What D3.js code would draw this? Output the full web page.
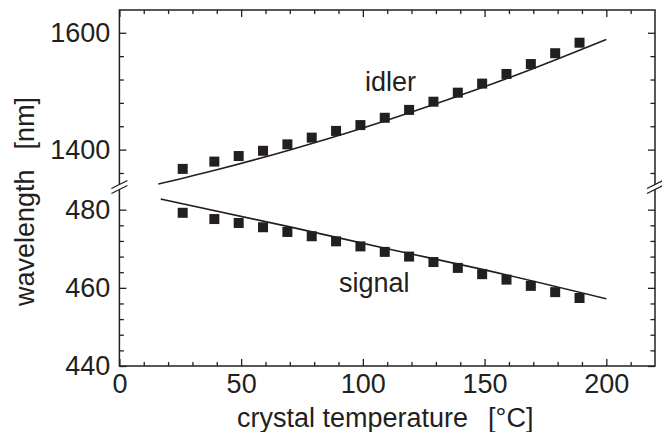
<!DOCTYPE html>
<html>
<head>
<meta charset="utf-8">
<script src="https://cdn.jsdelivr.net/npm/d3@7"></script>
<style>
  body { margin: 0; background: #fff; }
  text { font-family: "Liberation Sans", Arial, sans-serif; fill: #231f20; }
</style>
</head>
<body>
<svg id="chart" width="662" height="432"></svg>
<script>
// measured data (temperature in °C, wavelength in nm)
const temps = [26, 39, 49, 59, 69, 79, 89, 99, 109, 119, 129, 139, 149, 159, 169, 179, 189];
const idlerNm = [1367, 1379.5, 1389, 1398, 1409, 1420.5, 1432, 1442, 1454.5, 1468, 1482, 1497.5, 1513, 1529.5, 1546.5, 1565, 1583];
const signalNm = [479.2, 477.6, 476.6, 475.5, 474.3, 473.2, 471.9, 470.6, 469.2, 468.0, 466.6, 465.1, 463.5, 462.1, 460.5, 458.9, 457.4];

// calculated curves
const idlerFitT = [16, 40, 70, 100, 130, 160, 200];
const idlerFitNm = [1341, 1365.5, 1399.5, 1437, 1478.5, 1523, 1588.7];
const signalFitT = [17, 70, 110, 150, 200];
const signalFitNm = [482.7, 475.6, 470.0, 464.6, 457.2];

const xMajor = [0, 50, 100, 150, 200];
const xMinor = d3.range(10, 220, 10).filter(d => d % 50 != 0);
const upperMajor = [1400, 1600];
const upperMinor = [1360, 1440, 1480, 1520, 1560];
const lowerMajor = [440, 460, 480];
const lowerMinor = d3.range(444, 480, 4).filter(d => d % 20 != 0);

const ink = "#231f20";
const fs = "27px";
const pLeft = 119.4, pRight = 655, pTop = 10, pBottom = 366, brk = 187;

const svg = d3.select("#chart");

const x = d3.scaleLinear().domain([0, 220]).range([pLeft, pRight]);
const yU = d3.scaleLinear().domain([1336, 1639]).range([brk, pTop]);
const yL = d3.scaleLinear().domain([440, 485.8]).range([pBottom, brk]);
const fmt = d3.format("d");

function styleAxis(g) {
    g.select(".domain").remove();
    g.selectAll("line").attr("stroke", ink).attr("stroke-width", 1.3);
    g.selectAll("text").attr("font-size", fs).attr("fill", ink)
        .attr("font-family", "Liberation Sans, Arial, sans-serif");
}

// bottom axis
svg.append("g").attr("transform", `translate(0,${pBottom})`)
    .call(d3.axisBottom(x).tickValues(xMajor).tickSize(-7).tickPadding(8).tickFormat(fmt))
    .call(styleAxis);
svg.append("g").attr("transform", `translate(0,${pBottom})`)
    .call(d3.axisBottom(x).tickValues(xMinor).tickSize(-4).tickFormat(""))
    .call(styleAxis);
// top axis
svg.append("g").attr("transform", `translate(0,${pTop})`)
    .call(d3.axisTop(x).tickValues(xMajor).tickSize(-7).tickFormat(""))
    .call(styleAxis);
svg.append("g").attr("transform", `translate(0,${pTop})`)
    .call(d3.axisTop(x).tickValues(xMinor).tickSize(-4).tickFormat(""))
    .call(styleAxis);

// left axes (upper + lower part)
svg.append("g").attr("transform", `translate(${pLeft},0)`)
    .call(d3.axisLeft(yU).tickValues(upperMajor).tickSize(-7).tickPadding(9).tickFormat(fmt))
    .call(styleAxis);
svg.append("g").attr("transform", `translate(${pLeft},0)`)
    .call(d3.axisLeft(yU).tickValues(upperMinor).tickSize(-4.5).tickFormat(""))
    .call(styleAxis);
svg.append("g").attr("transform", `translate(${pLeft},0)`)
    .call(d3.axisLeft(yL).tickValues(lowerMajor).tickSize(-7).tickPadding(9).tickFormat(fmt))
    .call(styleAxis);
svg.append("g").attr("transform", `translate(${pLeft},0)`)
    .call(d3.axisLeft(yL).tickValues(lowerMinor).tickSize(-4.5).tickFormat(""))
    .call(styleAxis);

// right axes
svg.append("g").attr("transform", `translate(${pRight},0)`)
    .call(d3.axisRight(yU).tickValues(upperMajor).tickSize(-7).tickFormat(""))
    .call(styleAxis);
svg.append("g").attr("transform", `translate(${pRight},0)`)
    .call(d3.axisRight(yU).tickValues(upperMinor).tickSize(-4.5).tickFormat(""))
    .call(styleAxis);
svg.append("g").attr("transform", `translate(${pRight},0)`)
    .call(d3.axisRight(yL).tickValues(lowerMajor).tickSize(-7).tickFormat(""))
    .call(styleAxis);
svg.append("g").attr("transform", `translate(${pRight},0)`)
    .call(d3.axisRight(yL).tickValues(lowerMinor).tickSize(-4.5).tickFormat(""))
    .call(styleAxis);

// frame
svg.append("rect")
    .attr("x", pLeft).attr("y", pTop)
    .attr("width", pRight - pLeft).attr("height", pBottom - pTop)
    .attr("fill", "none").attr("stroke", ink).attr("stroke-width", 1.5);

// axis break marks
[pLeft, pRight].forEach(ax => {
    svg.append("polygon")
        .attr("points", `${ax-8},${brk+6.5} ${ax+8},${brk-1.5} ${ax+8},${brk-6.5} ${ax-8},${brk+1.5}`)
        .attr("fill", "#fff");
    [-2.5, 2.5].forEach(off => {
        svg.append("line")
            .attr("x1", ax - 8).attr("y1", brk + 4 + off)
            .attr("x2", ax + 8).attr("y2", brk - 4 + off)
            .attr("stroke", ink).attr("stroke-width", 1.3);
    });
});

// fit lines
const idlerLine = d3.line().x((d, i) => x(idlerFitT[i])).y(d => yU(d)).curve(d3.curveMonotoneX);
const signalLine = d3.line().x((d, i) => x(signalFitT[i])).y(d => yL(d)).curve(d3.curveMonotoneX);

svg.append("path").attr("d", idlerLine(idlerFitNm))
    .attr("fill", "none").attr("stroke", ink).attr("stroke-width", 1.6);
svg.append("path").attr("d", signalLine(signalFitNm))
    .attr("fill", "none").attr("stroke", ink).attr("stroke-width", 1.6);

// measured points
const sq = 10;
svg.selectAll("rect.idler")
    .data(idlerNm)
    .enter()
    .append("rect")
    .attr("class", "idler")
    .attr("x", (d, i) => x(temps[i]) - sq / 2)
    .attr("y", d => yU(d) - sq / 2)
    .attr("width", sq).attr("height", sq)
    .attr("fill", ink);

svg.selectAll("rect.signal")
    .data(signalNm)
    .enter()
    .append("rect")
    .attr("class", "signal")
    .attr("x", (d, i) => x(temps[i]) - sq / 2)
    .attr("y", d => yL(d) - sq / 2)
    .attr("width", sq).attr("height", sq)
    .attr("fill", ink);

// labels
svg.append("text").text("idler")
    .attr("x", 365).attr("y", 90.7)
    .attr("font-size", fs);
svg.append("text").text("signal")
    .attr("x", 339).attr("y", 291.7)
    .attr("font-size", fs);

// axis titles
let xt = svg.append("text").attr("x", 237).attr("y", 427).attr("font-size", fs);
xt.append("tspan").text("crystal temperature");
xt.append("tspan").attr("dx", 20).text("[°C]");

let yt = svg.append("text").attr("transform", "translate(34,306) rotate(-90)")
    .attr("font-size", fs);
yt.append("tspan").text("wavelength");
yt.append("tspan").attr("dx", 20).text("[nm]");
</script>
</body>
</html>
